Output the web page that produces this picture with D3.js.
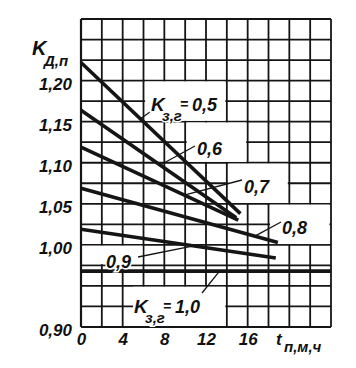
<!DOCTYPE html>
<html><head><meta charset="utf-8">
<script src="https://cdn.jsdelivr.net/npm/d3@7"></script>
<style>
body{margin:0;background:#fff}
text{font-family:"Liberation Sans",Arial,sans-serif;font-style:italic;font-weight:bold;fill:#111}
</style>
</head><body>
<svg id="c" width="356" height="368"></svg>
<script>
// ---- data ----
const seriesNames = ["0,5","0,6","0,7","0,8","0,9","1,0"];
const curve05 = [[0,1.222],[15.3,1.038]];
const curve06 = [[0,1.164],[14.9,1.033]];
const curve07 = [[0,1.119],[15.1,1.030]];
const curve08 = [[0,1.069],[18.9,1.003]];
const curve09 = [[0,1.019],[18.7,0.984]];
const curve10 = [[0,0.968],[24,0.968]];
const curves = [curve05,curve06,curve07,curve08,curve09,curve10];
const yTickValues = [1.20,1.15,1.10,1.05,1.00,0.90];
const yTickLabels = ["1,20","1,15","1,10","1,05","1,00","0,90"];
const xTickValues = [0,4,8,12,16];
const xTickLabels = ["0","4","8","12","16"];
const tMax = 24, kMin = 0.90, kMax = 1.275;

// ---- drawing ----
const svg = d3.select("#c");
svg.append("rect").attr("width",356).attr("height",368).attr("fill","#fff");
const x = d3.scaleLinear().domain([0,tMax]).range([81,331]);
const y = d3.scaleLinear().domain([kMin,kMax]).range([327,19]);
const ink = "#151515";

// grid
const g = svg.append("g");
g.selectAll("line.v").data(d3.range(0,tMax+0.01,2)).join("line")
  .attr("x1",d=>x(d)).attr("x2",d=>x(d)).attr("y1",y(kMin)).attr("y2",y(kMax))
  .attr("stroke",ink).attr("stroke-width",1.8);
g.selectAll("line.h").data(d3.range(0,16).map(i=>kMin+i*0.025)).join("line")
  .attr("y1",d=>y(d)).attr("y2",d=>y(d)).attr("x1",x(0)).attr("x2",x(tMax))
  .attr("stroke",ink).attr("stroke-width",1.8);

// white label boxes (in data units)
const boxes = [
  [6.15,13.85,1.151,1.199],
  [10.15,15.85,1.101,1.149],
  [14.15,19.85,1.051,1.099],
  [18.15,23.85,1.001,1.049],
  [0.1,5.9,0.9765,0.999],
  [5.0,13.85,0.901,0.949]
];
svg.selectAll("rect.box").data(boxes).join("rect")
  .attr("x",d=>x(d[0])).attr("width",d=>x(d[1])-x(d[0]))
  .attr("y",d=>y(d[3])).attr("height",d=>y(d[2])-y(d[3]))
  .attr("fill","#fff");

// left/bottom axis frame lines
svg.append("line").attr("x1",x(0)).attr("x2",x(0)).attr("y1",y(kMin)).attr("y2",y(kMax)).attr("stroke",ink).attr("stroke-width",2.2);
svg.append("line").attr("x1",x(0)).attr("x2",x(tMax)).attr("y1",y(kMin)).attr("y2",y(kMin)).attr("stroke",ink).attr("stroke-width",2.2);

// curves
const line = d3.line().x(d=>x(d[0])).y(d=>y(d[1]));
svg.selectAll("path.curve").data(curves).join("path")
  .attr("d",line).attr("fill","none").attr("stroke",ink).attr("stroke-width",3.6);

// helper: K on a curve at t
function kAt(c,t){const i=d3.bisector(d=>d[0]).right(c,t);const a=c[Math.max(0,i-1)],b=c[Math.min(c.length-1,i)];if(a===b)return a[1];return a[1]+(b[1]-a[1])*(t-a[0])/(b[0]-a[0]);}

// leaders: [curveIndex, tOnCurve, labelX, labelY]
const leaders = [
  [0,5.7,150,112],
  [1,7.6,195,146],
  [2,9.9,242,180],
  [3,16.7,281,222],
  [4,10.8,138,257],
  [5,13.3,202,293]
];
svg.selectAll("line.leader").data(leaders).join("line")
  .attr("x1",d=>x(d[1])).attr("y1",d=>y(kAt(curves[d[0]],d[1])))
  .attr("x2",d=>d[2]).attr("y2",d=>d[3])
  .attr("stroke",ink).attr("stroke-width",1.3);

// text helpers
function txt(s,px,py,size,anchor){
  return svg.append("text").attr("x",px).attr("y",py).attr("font-size",size)
    .attr("text-anchor",anchor||"start").text(s)
    .attr("stroke","#fff").attr("stroke-width",3).attr("paint-order","stroke");
}
function kLabel(px,py,val){
  txt("K",px,py,19);
  txt("з,г",px+11,py+10,15);
  txt("=",px+29,py-2,14);
  txt(val,px+41,py,18);
}
kLabel(151,111,seriesNames[0]);
txt(seriesNames[1],197,155,18);
txt(seriesNames[2],244,193,18);
txt(seriesNames[3],282,234,18);
txt(seriesNames[4],106,268,18);
kLabel(134,313,seriesNames[5]);

// axis titles
txt("K",32,55,20);
txt("Д,п",44,66,15);
txt("t",276,345,17);
txt("п,м,ч",284,352,15);

// axes (labels only)
const ya = svg.append("g").attr("transform",`translate(${x(0)},3.5)`)
  .call(d3.axisLeft(y).tickValues(yTickValues).tickFormat((d,i)=>yTickLabels[i]).tickSize(0).tickPadding(9));
ya.select(".domain").remove();
ya.selectAll("text").attr("font-size",17).attr("font-family",null).attr("fill",ink);
const xa = svg.append("g").attr("transform",`translate(0,${y(kMin)})`)
  .call(d3.axisBottom(x).tickValues(xTickValues).tickFormat((d,i)=>xTickLabels[i]).tickSize(0).tickPadding(6));
xa.select(".domain").remove();
xa.selectAll("text").attr("font-size",17).attr("font-family",null).attr("fill",ink);
ya.attr("font-family",null); xa.attr("font-family",null);
</script>
</body></html>
